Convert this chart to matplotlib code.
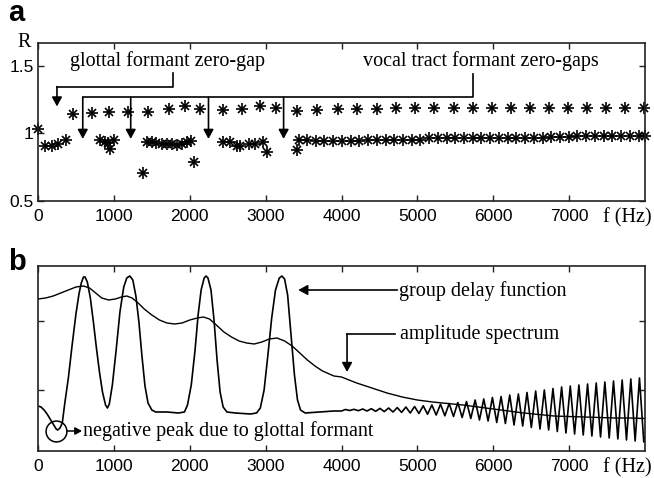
import matplotlib
matplotlib.use("Agg")
import matplotlib.pyplot as plt

# ---------------- data: panel a (ratio R vs frequency) ----------------
upper_f = [460, 710, 940, 1180, 1450, 1720, 1940, 2140, 2440, 2690, 2930, 3140,
           3410, 3680, 3950, 4200, 4470, 4720, 4970, 5220, 5480, 5730, 5990,
           6240, 6490, 6740, 6980, 7240, 7490, 7730, 7990]
upper_R = [1.145, 1.155, 1.16, 1.16, 1.16, 1.18, 1.20, 1.18, 1.175, 1.18, 1.20,
           1.185, 1.17, 1.175, 1.18, 1.18, 1.18, 1.185, 1.185, 1.185, 1.185,
           1.185, 1.185, 1.185, 1.185, 1.185, 1.185, 1.185, 1.185, 1.185, 1.185]

lower_f = [0, 90, 180, 270, 370,
           820, 880, 920, 950, 1000,
           1390,
           1430, 1500, 1560, 1630, 1700, 1760, 1830, 1900, 1960, 2010,
           2060,
           2440, 2530, 2620, 2665, 2775, 2865, 2970, 3015,
           3410, 3440, 3545, 3660, 3775, 3890, 4005, 4120, 4235, 4350, 4465,
           4580, 4695, 4810, 4925, 5040, 5155, 5270, 5385, 5500, 5615, 5730,
           5845, 5960, 6075, 6190, 6305, 6420, 6535, 6650, 6765, 6880, 6995,
           7110, 7225, 7340, 7455, 7570, 7685, 7800, 7915, 8000]
lower_R = [1.03, 0.91, 0.91, 0.92, 0.955,
           0.955, 0.94, 0.93, 0.885, 0.955,
           0.705,
           0.94, 0.935, 0.93, 0.925, 0.92, 0.92, 0.915, 0.92, 0.935, 0.945,
           0.79,
           0.94, 0.935, 0.91, 0.905, 0.92, 0.925, 0.935, 0.865,
           0.88, 0.955, 0.95, 0.945, 0.945, 0.945, 0.945, 0.945, 0.945, 0.955,
           0.955, 0.955, 0.955, 0.955, 0.955, 0.955, 0.965, 0.965, 0.965,
           0.965, 0.965, 0.965, 0.965, 0.965, 0.965, 0.965, 0.965, 0.965,
           0.965, 0.965, 0.975, 0.975, 0.975, 0.978, 0.978, 0.978, 0.978,
           0.978, 0.978, 0.978, 0.978, 0.978]

a_xticks = [0, 1000, 2000, 3000, 4000, 5000, 6000, 7000]
a_yticks = [0.5, 1, 1.5]
a_ytick_labels = ["0.5", "1", "1.5"]
vocal_gap_f = [590, 1222, 2247, 3237]
glottal_gap_f = 250

# ---------------- data: panel b (arbitrary units) ----------------
gd_f = [0, 40, 80, 120, 160, 200, 240, 260, 290, 320, 350, 400, 450, 500, 540,
        570, 600, 620, 650, 690, 730, 770, 810, 850, 890, 915, 940, 980, 1030,
        1080, 1130, 1170, 1210, 1250, 1290, 1330, 1370, 1410, 1450, 1500, 1550,
        1700, 1850, 1930, 1970, 2020, 2070, 2110, 2150, 2190, 2215, 2240, 2280,
        2320, 2360, 2400, 2440, 2490, 2600, 2800, 2880, 2930, 2980, 3030, 3080,
        3130, 3180, 3215, 3250, 3290, 3330, 3380, 3420, 3460, 3520, 3700, 3900,
        4000,
        4051, 4108, 4165, 4222, 4279, 4336, 4393, 4450, 4507, 4564, 4621, 4678,
        4735, 4792, 4849, 4906, 4963, 5020, 5077, 5134, 5191, 5248, 5305, 5362,
        5419, 5476, 5533, 5590, 5647, 5704, 5761, 5818, 5875, 5932, 5989, 6046,
        6103, 6160, 6217, 6274, 6331, 6388, 6445, 6502, 6559, 6616, 6673, 6730,
        6787, 6844, 6901, 6958, 7015, 7072, 7129, 7186, 7243, 7300, 7357, 7414,
        7471, 7528, 7585, 7642, 7699, 7756, 7813, 7870, 7927, 7984, 8000]
gd_val = [53, 52, 49, 45, 40, 35, 30, 29, 31, 36, 54, 81, 114, 145, 165,
          176, 182, 182, 177, 161, 137, 111, 87, 67, 54, 51, 55, 74, 109,
          147, 172, 181, 183, 179, 163, 137, 103, 73, 56, 49, 47,
          47, 46, 47, 54, 74, 109, 144, 169, 181, 183, 181, 169,
          139, 99, 67, 52, 47, 46, 45, 46, 51, 69, 104, 141,
          169, 181, 183, 180, 164, 129, 84, 59, 49, 46, 47, 48,
          48,
          49.5, 48.5, 49.7, 48.3, 50, 48, 50.3, 47.7, 50.6, 47.4, 51, 47,
          51.4, 46.6, 52, 46, 52.5, 45.5, 53.2, 44.8, 54, 44, 54.8, 43.2,
          55.5, 42.5, 56.5, 41.5, 57.5, 40.5, 59, 39, 60, 38, 61.5, 36.5,
          62.5, 35.5, 64, 34, 65, 33, 66.5, 31.5, 68, 30, 69, 29,
          70.5, 27.5, 72, 26, 73, 25, 74, 24, 75, 23, 76, 22,
          77, 21, 78, 20, 79, 19, 80, 18, 81, 17, 22]

amp_f = [0, 100, 200, 300, 400, 500, 600, 680, 760, 840, 930, 1020, 1100, 1170,
         1240, 1320, 1400, 1500, 1600, 1700, 1800, 1900, 2000, 2100, 2180, 2260,
         2350, 2450, 2550, 2650, 2750, 2850, 2950, 3050, 3150, 3250, 3350, 3450,
         3550, 3650, 3750, 3900, 4000, 4200, 4400, 4600, 4800, 5000, 5200, 5400,
         5600, 5800, 6000, 6200, 6400, 6600, 6800, 7000, 7200, 7400, 7600, 7800,
         8000]
amp_val = [160, 161, 163, 166, 169, 172, 173, 171, 166, 161, 159, 160, 162, 163,
           161, 156, 150, 144, 139, 136, 135, 136, 139, 141, 142, 140,
           134, 127, 122, 118, 116, 115, 117, 120, 121, 118, 113, 106,
           99, 93, 88, 83, 82, 76, 71, 66, 62, 59, 57, 55.5,
           54, 52, 50, 48, 46, 44.5, 43, 42.5, 42, 41.5, 41, 41,
           40.5]
b_yticks = [69, 138]

# ---------------- figure ----------------
W, H = 654, 478
fig = plt.figure(figsize=(W / 100, H / 100), dpi=100)
ax1 = fig.add_axes([38 / W, (H - 201) / H, 607 / W, 158 / H])
ax2 = fig.add_axes([38 / W, (H - 451) / H, 607 / W, 185 / H])

serif = "Liberation Serif"
sans = "Liberation Sans"
tick_fs = 12.5
ann_fs = 14.5

for ax in (ax1, ax2):
    ax.set_xlim(0, 8000)
    ax.set_xticks(a_xticks)
    ax.set_xticklabels([str(t) for t in a_xticks], fontfamily=sans, fontsize=tick_fs)
    ax.tick_params(direction="in", top=True, right=True, length=4, width=1.0,
                   pad=6, colors="#222222", labelcolor="black")
    for s in ax.spines.values():
        s.set_linewidth(1.2)
        s.set_color("#222222")
    ax.annotate("f (Hz)", xy=(7770, 0), xycoords=ax.get_xaxis_transform(),
                xytext=(0, -12), textcoords="offset points",
                ha="center", va="center", fontfamily=serif, fontsize=ann_fs)

# panel a
ax1.set_ylim(0.5, 1.67)
ax1.set_yticks(a_yticks)
ax1.set_yticklabels(a_ytick_labels, fontfamily=sans, fontsize=tick_fs)
ax1.tick_params(axis="y", pad=3)
for fx, ry in ((upper_f, upper_R), (lower_f, lower_R)):
    ax1.plot(fx, ry, linestyle="none", marker="+", ms=9, mew=1.2, color="black", clip_on=False)
    ax1.plot(fx, ry, linestyle="none", marker="x", ms=5.5, mew=1.2, color="black", clip_on=False)

ax1.text(-0.012, 1.0, "R", transform=ax1.transAxes, ha="right", va="center",
         fontfamily=serif, fontsize=ann_fs)

arrow_kw = dict(arrowstyle="-|>,head_length=0.55,head_width=0.3", color="black",
                lw=1.2, shrinkA=0, shrinkB=0)

# glottal formant zero-gap annotation
ax1.text(1708, 1.535, "glottal formant zero-gap", ha="center", va="center",
         fontfamily=serif, fontsize=ann_fs)
ax1.plot([1781, 1781, glottal_gap_f], [1.446, 1.347, 1.347], color="black", lw=1.2)
ax1.annotate("", xy=(glottal_gap_f, 1.20), xytext=(glottal_gap_f, 1.347), arrowprops=arrow_kw)

# vocal tract formant zero-gaps annotation
ax1.text(5832, 1.537, "vocal tract formant zero-gaps", ha="center", va="center",
         fontfamily=serif, fontsize=ann_fs)
ax1.plot([5735, 5735, vocal_gap_f[0]], [1.44, 1.268, 1.268], color="black", lw=1.2)
for fz in vocal_gap_f:
    ax1.annotate("", xy=(fz, 0.96), xytext=(fz, 1.268), arrowprops=arrow_kw)

# panel b
ax2.set_ylim(8, 193)
ax2.set_yticks(b_yticks)
ax2.set_yticklabels([])
ax2.plot(gd_f, gd_val, color="black", lw=1.2)
ax2.plot(amp_f, amp_val, color="black", lw=1.0)

ax2.annotate("", xy=(3430, 169), xytext=(4736, 169), arrowprops=arrow_kw)
ax2.text(4763, 168, "group delay function", ha="left", va="center",
         fontfamily=serif, fontsize=ann_fs)
ax2.plot([4710, 4073], [125, 125], color="black", lw=1.2)
ax2.annotate("", xy=(4073, 87), xytext=(4073, 125), arrowprops=arrow_kw)
ax2.text(4776, 125, "amplitude spectrum", ha="left", va="center",
         fontfamily=serif, fontsize=ann_fs)

ax2.plot([237], [28], marker="o", ms=15, mfc="none", mec="black", mew=1.1,
         linestyle="none")
ax2.annotate("", xy=(580, 28), xytext=(383, 28),
             arrowprops=dict(arrowstyle="-|>,head_length=0.4,head_width=0.22",
                             color="black", lw=1.1, shrinkA=0, shrinkB=0))
ax2.text(594, 28, "negative peak due to glottal formant", ha="left", va="center",
         fontfamily=serif, fontsize=ann_fs)

# panel labels
fig.text(8 / W, 1 - 13 / H, "a", ha="left", va="center", fontfamily=sans,
         fontweight="bold", fontsize=21)
fig.text(8 / W, 1 - 262 / H, "b", ha="left", va="center", fontfamily=sans,
         fontweight="bold", fontsize=21)

fig.savefig("out.png", dpi=100)
